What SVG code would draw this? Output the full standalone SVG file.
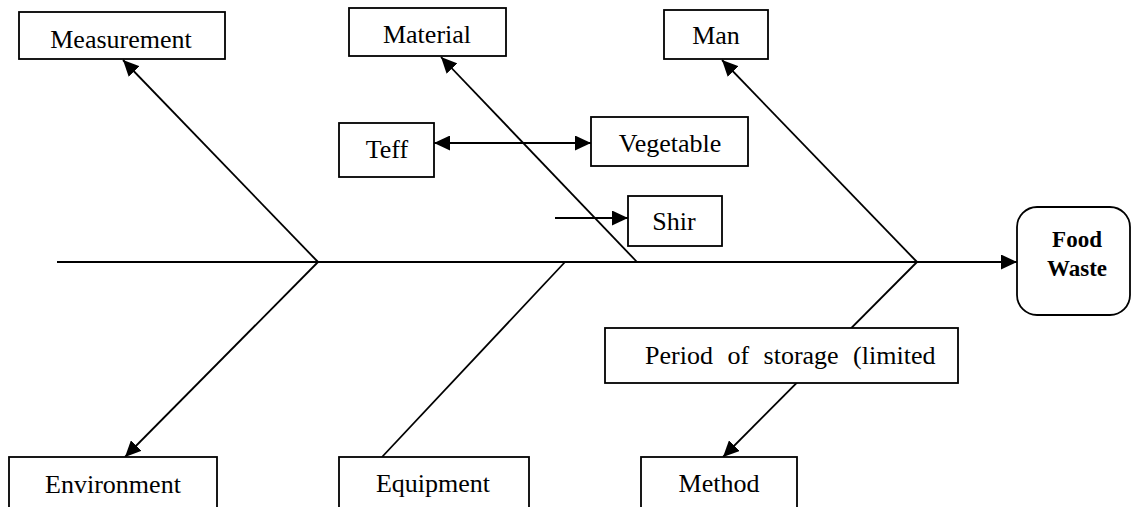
<svg xmlns="http://www.w3.org/2000/svg" width="1131" height="507" viewBox="0 0 1131 507">
<style>
.box{fill:#fff;stroke:#000;stroke-width:1.8}
.lbl{font-family:'Liberation Serif','Times New Roman','DejaVu Serif',serif;font-size:26px;fill:#000;text-anchor:middle}
.bold{font-weight:bold;font-size:23px}
.ln{stroke:#000;stroke-width:1.8;fill:none}
</style>
<defs>
<marker id="ah" markerUnits="userSpaceOnUse" markerWidth="17" markerHeight="15" refX="16" refY="7.5" orient="auto-start-reverse" viewBox="0 0 17 15">
<path d="M0,0 L16,7.5 L0,15 z" fill="#000"/>
</marker>
</defs>
<g id="connectors">
<line class="ln" x1="57" y1="262" x2="1017" y2="262" marker-end="url(#ah)"/>
<line class="ln" x1="318" y1="262" x2="123" y2="60" marker-end="url(#ah)"/>
<line class="ln" x1="318" y1="262" x2="125" y2="457" marker-end="url(#ah)"/>
<line class="ln" x1="637" y1="262" x2="441" y2="57" marker-end="url(#ah)"/>
<line class="ln" x1="565" y1="262" x2="382" y2="457"/>
<line class="ln" x1="917" y1="262" x2="722" y2="60" marker-end="url(#ah)"/>
<line class="ln" x1="917" y1="262" x2="723" y2="457" marker-end="url(#ah)"/>
<line class="ln" x1="434" y1="143" x2="591" y2="143" marker-start="url(#ah)" marker-end="url(#ah)"/>
<line class="ln" x1="555" y1="218" x2="628" y2="218" marker-end="url(#ah)"/>
</g>
<g id="measurement"><rect class="box" x="19" y="12" width="206" height="47"/><text class="lbl" font-family="Liberation Serif" x="121" y="48">Measurement</text></g>
<g id="material"><rect class="box" x="349" y="8" width="157" height="48"/><text class="lbl" font-family="Liberation Serif" x="427" y="43">Material</text></g>
<g id="man"><rect class="box" x="664" y="10" width="104" height="49"/><text class="lbl" font-family="Liberation Serif" x="716" y="44">Man</text></g>
<g id="teff"><rect class="box" x="339" y="123" width="95" height="54"/><text class="lbl" font-family="Liberation Serif" x="387" y="158">Teff</text></g>
<g id="vegetable"><rect class="box" x="591" y="117" width="157" height="49"/><text class="lbl" font-family="Liberation Serif" x="670" y="152">Vegetable</text></g>
<g id="shir"><rect class="box" x="628" y="196" width="94" height="50"/><text class="lbl" font-family="Liberation Serif" x="674" y="230">Shir</text></g>
<g id="food-waste"><rect class="box" x="1017" y="207" width="113" height="108" rx="20" ry="20"/><text class="lbl bold" font-family="Liberation Serif" x="1077" y="247">Food</text><text class="lbl bold" font-family="Liberation Serif" x="1077" y="276">Waste</text></g>
<g id="period"><rect class="box" x="605" y="328" width="353" height="55"/><text class="lbl" font-family="Liberation Serif" x="645" y="364" style="text-anchor:start" word-spacing="8">Period of storage (limited</text></g>
<g id="environment"><rect class="box" x="9" y="457" width="208" height="52"/><text class="lbl" font-family="Liberation Serif" x="113" y="493">Environment</text></g>
<g id="equipment"><rect class="box" x="339" y="457" width="190" height="52"/><text class="lbl" font-family="Liberation Serif" x="433" y="492">Equipment</text></g>
<g id="method"><rect class="box" x="641" y="457" width="156" height="52"/><text class="lbl" font-family="Liberation Serif" x="719" y="492">Method</text></g>
</svg>
